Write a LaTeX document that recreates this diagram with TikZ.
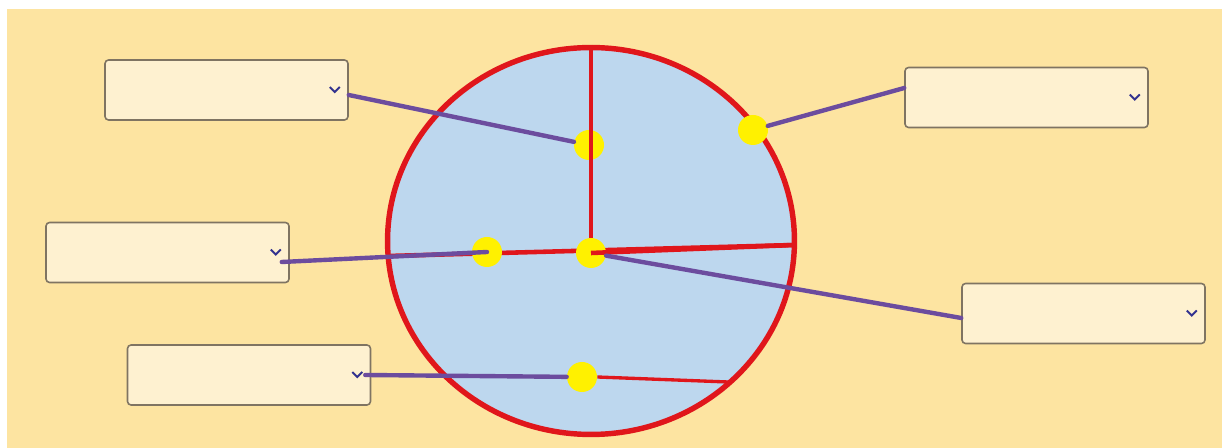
\documentclass[tikz,border=0pt]{standalone}
\usepackage{xcolor}
\usepackage{tikz}
\usetikzlibrary{shapes,arrows.meta,positioning,fit,calc}
\definecolor{paper}{HTML}{FDE4A1}
\definecolor{boxfill}{HTML}{FEF1D0}
\definecolor{boxline}{HTML}{7F7462}
\definecolor{sea}{HTML}{BDD7EE}
\definecolor{rim}{HTML}{E0161B}
\definecolor{pointer}{HTML}{6C4C9E}
\definecolor{spot}{HTML}{FFF100}
\definecolor{chevcol}{HTML}{33338F}

\begin{document}
\begin{tikzpicture}[x=0.02cm, y=-0.02cm,
  answer/.style={rectangle, rounded corners=2pt, draw=boxline, line width=0.9pt, fill=boxfill, minimum width=4.86cm, minimum height=1.2cm},
  globe/.style={ellipse, draw=rim, line width=3.1pt, fill=sea, minimum width=8.14cm, minimum height=7.74cm, inner sep=0pt},
  cut/.style={draw=rim, line width=1.9pt},
  spot/.style={circle, fill=spot, minimum size=0.6cm, inner sep=0pt},
  link/.style={draw=pointer, line width=2.5pt, line cap=round},
  chev/.style={draw=chevcol, line width=1.1pt}
]
\useasboundingbox (0,0) rectangle (1231,448);
\fill[paper] (7,9) rectangle (1222,448);

\node[globe] (g) at (591,241) {};
\coordinate (hl) at (388,256);
\coordinate (hr) at (794,245);
\coordinate (cr) at (728,382);

\node[answer] (b1) at (226.5,90) {};
\node[answer] (b2) at (1026.5,97.5) {};
\node[answer] (b3) at (167.5,252.5) {};
\node[answer] (b4) at (1083.5,313.5) {};
\node[answer] (b5) at (249,375) {};

\foreach \b in {b1,b2,b3,b4,b5}
  \draw[chev] ([xshift=-0.28cm]\b.east) ++(-5,-3) -- ++(5,5) -- ++(5,-5);

\draw[cut, line width=2.6pt] (hl) -- (hr);

\node[spot] (d1) at (589,145) {};
\node[spot] (d2) at (753,130) {};
\node[spot] (d3) at (487,252) {};
\node[spot] (d4) at (591,253) {};
\node[spot] (d5) at (582,377) {};

\draw[cut] (g.north) -- (d4.north);
\draw[cut, line width=2.6pt] (d4.center) -- (hr);
\draw[cut] (d5.east) -- (cr);

\draw[link] ([yshift=-0.1cm]b1.east) -- (d1);
\draw[link] (d2) -- ([yshift=0.19cm]b2.west);
\draw[link] ([xshift=-0.16cm,yshift=-0.19cm]b3.east) -- (d3.center);
\draw[link] (d4) -- ([yshift=-0.09cm]b4.west);
\draw[link] ([xshift=-0.12cm]b5.east) -- (d5);
\end{tikzpicture}
\end{document}
